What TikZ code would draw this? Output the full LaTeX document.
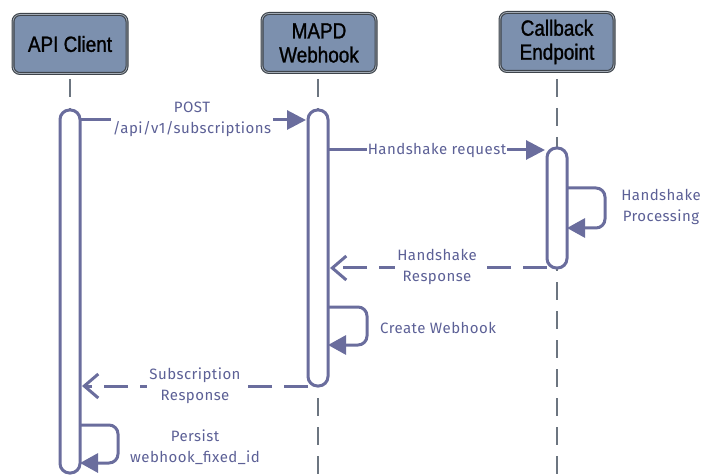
\documentclass[tikz,border=0pt]{standalone}
\usepackage{fontspec}
\setmainfont[LetterSpace=3]{Fira Sans}
\newfontfamily\headfont[FakeStretch=0.86,FakeBold=1.2]{Liberation Sans}
\usetikzlibrary{arrows.meta}
\definecolor{ln}{HTML}{6A6D9D}
\definecolor{txt}{HTML}{5C6096}
\definecolor{life}{HTML}{6C7580}
\definecolor{hfill}{HTML}{7C90AE}
\definecolor{hedge}{HTML}{3E444B}
\definecolor{hlight}{HTML}{A3ABB5}
\begin{document}
\begin{tikzpicture}[x=1pt,y=-1pt,
  head/.style={draw=hedge,line width=3pt,fill=hfill,rounded corners=7pt,minimum width=114pt,minimum height=59pt,
     align=center,font=\headfont\fontsize{22}{24}\selectfont,text=black,inner sep=0pt,
     postaction={draw=hlight,line width=0.8pt}},
  bar/.style={draw=ln,line width=3pt,fill=white,rounded corners=9.5pt},
  lifeline/.style={draw=life,line width=2.6pt,dash pattern=on 18pt off 11pt},
  msg/.style={draw=ln,line width=3pt,-{Triangle[length=19pt,width=19pt]}},
  ret/.style={draw=ln,line width=3pt,dash pattern=on 24pt off 12pt,-{Straight Barb[length=14pt,width=24pt,line width=3pt]}},
  self/.style={draw=ln,line width=3pt,rounded corners=9pt,-{Triangle[length=18pt,width=19pt]}},
  lbl/.style={text=txt,font=\fontsize{15}{21}\selectfont,align=center,inner sep=2pt},
  lblw/.style={lbl,fill=white}]
\useasboundingbox (0,0) rectangle (705,476);
% headers
\node[head] (hA) at (70,44) {API Client};
\node[head] (hM) at (319,43) {MAPD\\Webhook};
\node[head] (hC) at (557,42) {Callback\\Endpoint};
% lifelines
\coordinate (eA) at (70,476);
\coordinate (eM) at (318,476);
\coordinate (eC) at (557,476);
\coordinate (sA) at (70,79);
\coordinate (sM) at (318,79);
\coordinate (sC) at (557,79);
\draw[lifeline] (sA) -- (eA);
\draw[lifeline] (sM) -- (eM);
\draw[lifeline] (sC) -- (eC);
% activation bars
\draw[bar] (60,110) rectangle (80,473);
\draw[bar] (308,110) rectangle (328,386);
\draw[bar] (547,148) rectangle (567,268);
\coordinate (A1) at (80,120); \coordinate (M1) at (306,120);
\coordinate (M2) at (328,150); \coordinate (C2) at (545,150);
\coordinate (C3) at (547,268); \coordinate (M3) at (330,268);
\coordinate (M4) at (308,386); \coordinate (A4) at (82,386);
% messages
\draw[msg] (A1) -- (M1);
\node[lblw] (lPost) at (192,119) {POST\\/api/v1/subscriptions};
\draw[msg] (M2) -- (C2);
\node[lblw,inner sep=1pt] (lHr) at (437,150) {Handshake request};
\draw[self] (567,188) -- (605,188) -- (605,228) -- (567,228);
\node[lbl] (lHp) at (661,207) {Handshake\\Processing};
\draw[ret] (C3) -- (M3);
\node[lblw] (lHs) at (437,267) {Handshake\\Response};
\draw[self] (328,307) -- (367,307) -- (367,345) -- (328,345);
\node[lbl,anchor=west] (lCw) at (378,328) {Create Webhook};
\draw[ret] (M4) -- (A4);
\node[lblw] (lSr) at (195,386) {Subscription\\Response};
\draw[self] (80,425) -- (118,425) -- (118,463) -- (80,463);
\node[lbl] (lPe) at (195,447) {Persist\\webhook\_fixed\_id};
\end{tikzpicture}
\end{document}
